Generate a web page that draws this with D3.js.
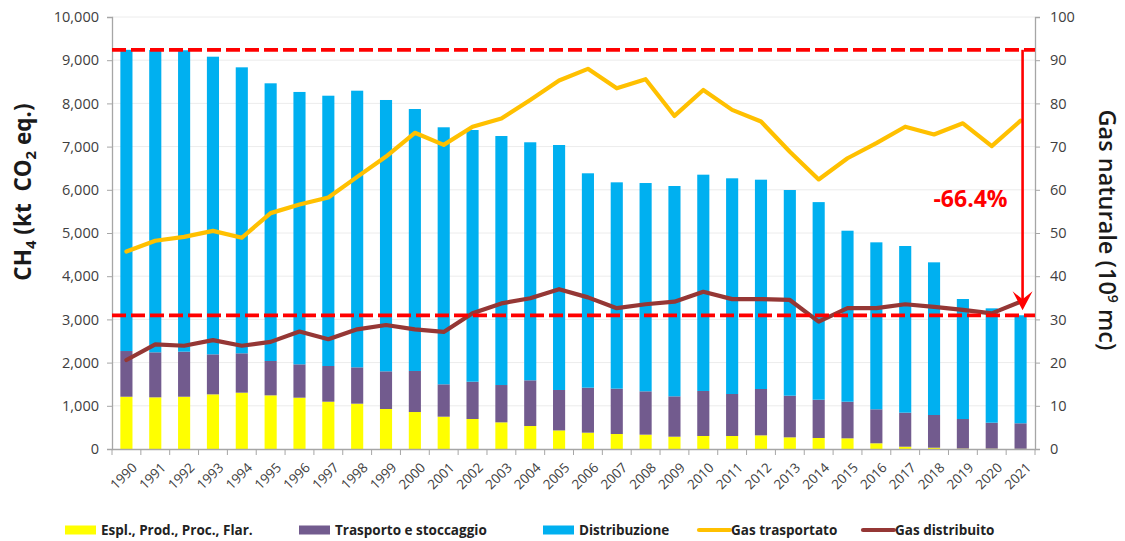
<!DOCTYPE html>
<html>
<head>
<meta charset="utf-8">
<script src="https://cdn.jsdelivr.net/npm/d3@7"></script>
<style>
  body { margin: 0; background: #fff; }
  svg { display: block; }
</style>
</head>
<body>
<div id="chart"></div>
<script>
// Emissioni CH4 dal settore gas naturale, 1990-2021
const years = d3.range(1990, 2022).map(String);

// kt CO2 eq. (stacked)
const espl = [1210, 1196, 1210, 1265, 1304, 1242, 1188, 1095, 1049, 926, 856, 748, 694, 617, 532, 430,
    378, 347, 332, 285, 301, 301, 316, 270, 255, 247, 132, 53, 30, 10, 8, 5];
const trasporto = [1058, 1042, 1043, 926, 911, 795, 772, 826, 841, 872, 950, 749, 864, 864, 1058, 936,
    1042, 1050, 1003, 934, 1042, 972, 1073, 964, 886, 848, 787, 788, 757, 684, 601, 590];
const distribuzione = [6972, 6997, 6977, 6890, 6620, 6428, 6305, 6257, 6404, 6281, 6064, 5950, 5826, 5764, 5510, 5671,
    4962, 4776, 4822, 4869, 5007, 4993, 4845, 4761, 4574, 3958, 3865, 3858, 3534, 2778, 2647, 2500];

// 10^9 mc (right axis)
const gasTrasportato = [45.7, 48.2, 49.1, 50.5, 48.9, 54.6, 56.6, 58.2, 63.0, 67.7, 73.2, 70.4, 74.6, 76.5, 80.8, 85.3,
    88.0, 83.5, 85.6, 77.1, 83.1, 78.5, 75.8, 68.8, 62.4, 67.3, 70.8, 74.6, 72.8, 75.4, 70.1, 76.0];
const gasDistribuito = [20.6, 24.2, 23.9, 25.2, 23.9, 24.8, 27.2, 25.4, 27.7, 28.7, 27.7, 27.1, 31.4, 33.7, 34.9, 37.0,
    35.1, 32.6, 33.5, 34.1, 36.4, 34.7, 34.7, 34.5, 29.5, 32.6, 32.6, 33.5, 32.9, 32.2, 31.4, 34.1];

const leftTicks = d3.range(0, 10001, 1000);
const rightTicks = d3.range(0, 101, 10);
const changeLabel = "-66.4%";

const width = 1125, height = 541;
const margin = { top: 17, right: 90, bottom: 92, left: 112 };
const font = "'Open Sans', 'Noto Sans', sans-serif";

const svg = d3.select("#chart").append("svg")
    .attr("width", width)
    .attr("height", height);

const x = d3.scaleBand()
    .domain(years)
    .range([margin.left, width - margin.right])
    .paddingInner(0.58)
    .paddingOuter(0.29);

const y = d3.scaleLinear().domain([0, 10000]).range([height - margin.bottom, margin.top]);
const y2 = d3.scaleLinear().domain([0, 100]).range([height - margin.bottom, margin.top]);

const x0 = margin.left, x1 = width - margin.right;
const yBase = height - margin.bottom;

// gridlines
svg.append("g")
    .selectAll("line")
    .data(leftTicks.filter(d => d > 0))
    .enter().append("line")
    .attr("x1", x0).attr("x2", x1)
    .attr("y1", d => y(d)).attr("y2", d => y(d))
    .attr("stroke", "#ececec")
    .attr("stroke-width", 1);

// stacked bars
const table = years.map((yr, i) => ({
    year: yr, espl: espl[i], trasporto: trasporto[i], distribuzione: distribuzione[i]
}));
const keys = ["espl", "trasporto", "distribuzione"];
const colors = { espl: "#ffff00", trasporto: "#725b8e", distribuzione: "#00b0f0" };
const stacked = d3.stack().keys(keys)(table);

svg.append("g")
    .selectAll("g")
    .data(stacked)
    .enter().append("g")
    .attr("fill", d => colors[d.key])
    .selectAll("rect")
    .data(d => d)
    .enter().append("rect")
    .attr("x", d => x(d.data.year))
    .attr("width", x.bandwidth())
    .attr("y", d => y(d[1]))
    .attr("height", d => y(d[0]) - y(d[1]));

// axes
const axisColor = "#a6a6a6";
const tickColor = "#404040";

const leftAxis = svg.append("g")
    .attr("transform", `translate(${x0},0)`)
    .call(d3.axisLeft(y).tickValues(leftTicks).tickFormat(d3.format(",")).tickSize(5).tickPadding(8));
const rightAxis = svg.append("g")
    .attr("transform", `translate(${x1},0)`)
    .call(d3.axisRight(y2).tickValues(rightTicks).tickSize(5).tickPadding(10));
const xAxis = svg.append("g")
    .attr("transform", `translate(0,${yBase})`)
    .call(d3.axisBottom(x).tickSize(0).tickFormat(d => d));

[leftAxis, rightAxis, xAxis].forEach(a => {
    a.select(".domain").attr("stroke", axisColor).attr("stroke-width", 1.3);
    a.selectAll(".tick line").attr("stroke", axisColor);
    a.selectAll("text")
        .attr("fill", tickColor)
        .attr("font-family", font)
        .attr("font-size", "14.5px");
});

// x ticks at band boundaries
svg.append("g")
    .selectAll("line")
    .data(d3.range(years.length + 1))
    .enter().append("line")
    .attr("x1", i => x0 + i * x.step())
    .attr("x2", i => x0 + i * x.step())
    .attr("y1", yBase).attr("y2", yBase + 6)
    .attr("stroke", axisColor);

xAxis.selectAll(".tick text")
    .attr("font-size", "13.5px")
    .attr("text-anchor", "end")
    .attr("dy", "0.35em")
    .attr("transform", "translate(6,14) rotate(-45)");

// lines
const lineGen = vals => d3.line()
    .x((d, i) => x(years[i]) + x.bandwidth() / 2)
    .y(d => y2(d))(vals);

svg.append("path")
    .attr("d", lineGen(gasTrasportato))
    .attr("fill", "none")
    .attr("stroke", "#ffc000")
    .attr("stroke-width", 4.2)
    .attr("stroke-linejoin", "round")
    .attr("stroke-linecap", "round");

svg.append("path")
    .attr("d", lineGen(gasDistribuito))
    .attr("fill", "none")
    .attr("stroke", "#953735")
    .attr("stroke-width", 4.2)
    .attr("stroke-linejoin", "round")
    .attr("stroke-linecap", "round");

// reference dashed lines: 1990 and 2021 totals
const totals = years.map((_, i) => espl[i] + trasporto[i] + distribuzione[i]);
const refs = [totals[0], totals[totals.length - 1]];

svg.append("g")
    .selectAll("line")
    .data(refs)
    .enter().append("line")
    .attr("x1", x0).attr("x2", x1)
    .attr("y1", d => y(d)).attr("y2", d => y(d))
    .attr("stroke", "#ff0000")
    .attr("stroke-width", 3.8)
    .attr("stroke-dasharray", "14,5");

// vertical arrow
const ax = x(years[years.length - 1]) + x.bandwidth() / 2 + 2;
const yTop = y(refs[0]);
const yTip = y(refs[1]) - 5;
svg.append("line")
    .attr("x1", ax).attr("x2", ax)
    .attr("y1", yTop).attr("y2", yTip - 8)
    .attr("stroke", "#ff0000")
    .attr("stroke-width", 2.6);
svg.append("path")
    .attr("d", `M${ax},${yTip} L${ax - 10},${yTip - 19} L${ax},${yTip - 11} L${ax + 10},${yTip - 19} Z`)
    .attr("fill", "#ff0000");

svg.append("text")
    .attr("x", ax - 15)
    .attr("y", 207)
    .attr("text-anchor", "end")
    .attr("fill", "#ff0000")
    .attr("font-family", font)
    .attr("font-weight", "700")
    .attr("font-size", "23px")
    .text(changeLabel);

// axis titles
const leftTitle = svg.append("text")
    .attr("transform", `translate(31,192) rotate(-90)`)
    .attr("text-anchor", "middle")
    .attr("fill", "#1a1a1a")
    .attr("font-family", font)
    .attr("font-weight", "700")
    .attr("font-size", "22.5px");
leftTitle.append("tspan").text("CH");
leftTitle.append("tspan").attr("font-size", "15px").attr("dy", 5).text("4");
leftTitle.append("tspan").attr("dy", -5).text("\u00a0(kt\u00a0\u00a0CO");
leftTitle.append("tspan").attr("font-size", "15px").attr("dy", 5).text("2");
leftTitle.append("tspan").attr("dy", -5).text(" eq.)");

const rightTitle = svg.append("text")
    .attr("transform", `translate(1099,230) rotate(90)`)
    .attr("text-anchor", "middle")
    .attr("fill", "#1a1a1a")
    .attr("font-family", font)
    .attr("font-weight", "600")
    .attr("font-size", "23.5px");
rightTitle.append("tspan").text("Gas naturale (10");
rightTitle.append("tspan").attr("font-size", "14px").attr("dy", -9).text("9");
rightTitle.append("tspan").attr("dy", 9).text(" mc)");

// legend
const legendItems = [
    { label: "Espl., Prod., Proc., Flar.", color: "#ffff00", type: "rect", x: 65 },
    { label: "Trasporto e stoccaggio", color: "#725b8e", type: "rect", x: 299 },
    { label: "Distribuzione", color: "#00b0f0", type: "rect", x: 543 },
    { label: "Gas trasportato", color: "#ffc000", type: "line", x: 698 },
    { label: "Gas distribuito", color: "#953735", type: "line", x: 862 }
];
const ly = 530;
const legend = svg.append("g")
    .selectAll("g")
    .data(legendItems)
    .enter().append("g")
    .attr("transform", d => `translate(${d.x},${ly})`);

legend.filter(d => d.type === "rect").append("rect")
    .attr("x", 0).attr("y", -4.5)
    .attr("width", 31).attr("height", 9)
    .attr("fill", d => d.color);
legend.filter(d => d.type === "line").append("line")
    .attr("x1", 1).attr("x2", 32)
    .attr("y1", 0).attr("y2", 0)
    .attr("stroke", d => d.color)
    .attr("stroke-width", 4.2)
    .attr("stroke-linecap", "round");
legend.append("text")
    .attr("x", d => d.type === "rect" ? 36 : 33)
    .attr("y", 0)
    .attr("dy", "0.35em")
    .attr("fill", "#222")
    .attr("font-family", font)
    .attr("font-weight", "700")
    .attr("font-size", "13.5px")
    .text(d => d.label);
</script>
</body>
</html>
